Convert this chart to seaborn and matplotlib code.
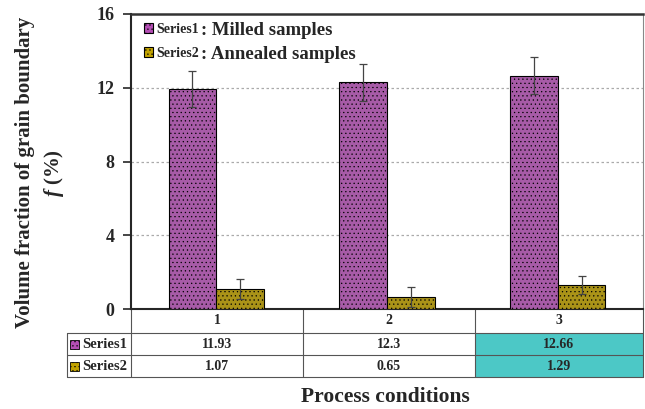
import matplotlib
matplotlib.use("Agg")
import matplotlib.pyplot as plt
import seaborn as sns
import pandas as pd
from matplotlib.patches import Rectangle, Patch

conditions = ["1", "2", "3"]
series_names = ["Series1", "Series2"]
legend_names = ["Milled samples", "Annealed samples"]
milled = [11.93, 12.3, 12.66]
annealed = [1.07, 0.65, 1.29]
milled_err = [1.0, 1.0, 1.0]
annealed_err = [0.55, 0.55, 0.5]
yticks = [0, 4, 8, 12, 16]

colors = ["#B44EB4", "#C2A300"]
teal = "#4CC8C6"

sns.set_theme(style="white")
plt.rcParams["font.family"] = ["Liberation Serif", "DejaVu Serif"]
plt.rcParams["hatch.linewidth"] = 0.4
plt.rcParams["mathtext.fontset"] = "custom"
plt.rcParams["mathtext.rm"] = "Liberation Serif:bold"
plt.rcParams["mathtext.bf"] = "Liberation Serif:bold"
plt.rcParams["mathtext.it"] = "Liberation Serif:italic:bold"

df = pd.DataFrame({
    "cond": conditions * 2,
    "series": [series_names[0]] * 3 + [series_names[1]] * 3,
    "val": milled + annealed,
})

fig = plt.figure(figsize=(6.45, 4.09), dpi=100)
ax = fig.add_axes([131 / 645, 1 - 309 / 409, 512 / 645, 295 / 409])

sns.barplot(data=df, x="cond", y="val", hue="series", palette=colors,
            width=0.56, ax=ax, edgecolor="black", linewidth=0.8,
            errorbar=None, legend=False)

errs = {series_names[0]: milled_err, series_names[1]: annealed_err}
vals = {series_names[0]: milled, series_names[1]: annealed}
for cont, name in zip(ax.containers, series_names):
    xs = [p.get_x() + p.get_width() / 2 for p in cont.patches]
    ax.errorbar(xs, vals[name], yerr=errs[name], fmt="none", ecolor="#444444",
                elinewidth=0.9, capsize=3, capthick=0.9, zorder=5)
    for p in cont.patches:
        p.set_hatch("....")
        p.set_zorder(3)

ax.set_ylim(0, 16)
ax.set_xlim(-0.5, 2.5)
ax.set_yticks(yticks)
ax.set_yticklabels([str(t) for t in yticks], fontsize=13, fontweight="bold")
ax.set_xticks([])
ax.set_xlabel("")
ax.set_ylabel("")
ax.tick_params(axis="y", direction="out", length=6, width=1.2, left=True, pad=6)
for t in yticks[1:-1]:
    ax.axhline(t, color="#AAAAAA", linestyle=(0, (2, 2)), linewidth=0.9, zorder=0)

ax.spines["left"].set_linewidth(1.5)
ax.spines["top"].set_linewidth(1.8)
ax.spines["top"].set_color("#333333")
ax.spines["right"].set_linewidth(0.8)
ax.spines["right"].set_color("#888888")
ax.spines["bottom"].set_linewidth(1.5)

# legend: small "SeriesN" then larger ": description"
handles = [Patch(facecolor=c, edgecolor="black", hatch="....", linewidth=0.8) for c in colors]
leg = ax.legend(handles, series_names, loc="upper left", bbox_to_anchor=(0.0, 1.012),
                frameon=False, handlelength=0.7, handleheight=0.7, handletextpad=0.25,
                labelspacing=0.8, prop={"weight": "bold", "size": 10})
fig.canvas.draw()
inv = fig.transFigure.inverted()
for txt, desc in zip(leg.get_texts(), legend_names):
    bb = txt.get_window_extent(renderer=fig.canvas.get_renderer())
    x0, y0 = inv.transform((bb.x1 + 2, (bb.y0 + bb.y1) / 2 - 1))
    fig.text(x0, y0, ": " + desc, ha="left", va="center", fontsize=13.5,
             fontweight="bold")

# table below axes
px = 1 / 512.0
py = 1 / 295.0
col_edges = [-64 * px, 0, 172 * px, 344 * px, 1.0]
row_edges = [0, -24 * py, -46 * py, -68 * py]
kw = dict(transform=ax.transAxes, clip_on=False)
lc = "#555555"
for k in (1, 2, 3):
    ax.plot([col_edges[0], 1], [row_edges[k]] * 2, color=lc, lw=0.8, **kw)
ax.plot([col_edges[0]] * 2, [row_edges[1], row_edges[3]], color=lc, lw=0.8, **kw)
for xe in col_edges[1:]:
    ax.plot([xe] * 2, [row_edges[0], row_edges[3]], color=lc, lw=0.8, **kw)

ax.add_patch(Rectangle((col_edges[3], row_edges[3]), col_edges[4] - col_edges[3],
                       row_edges[1] - row_edges[3], facecolor=teal, edgecolor="none",
                       zorder=0, **kw))

for i, c in enumerate(conditions):
    xc = (col_edges[i + 1] + col_edges[i + 2]) / 2
    ax.text(xc, (row_edges[0] + row_edges[1]) / 2, c, ha="center", va="center",
            fontsize=10, fontweight="bold", **kw)
    ax.text(xc, (row_edges[1] + row_edges[2]) / 2, f"{milled[i]:g}", ha="center",
            va="center", fontsize=10, fontweight="bold", **kw)
    ax.text(xc, (row_edges[2] + row_edges[3]) / 2, f"{annealed[i]:g}", ha="center",
            va="center", fontsize=10, fontweight="bold", **kw)

for r, (name, c) in enumerate(zip(series_names, colors)):
    yc = (row_edges[r + 1] + row_edges[r + 2]) / 2
    ax.add_patch(Rectangle((col_edges[0] + 3 * px, yc - 4.5 * py), 9 * px, 9 * py,
                           facecolor=c, edgecolor="black", linewidth=0.6,
                           hatch="....", **kw))
    ax.text(col_edges[0] + 15 * px, yc, name, ha="left", va="center",
            fontsize=10.5, fontweight="bold", **kw)

# axis labels
fig.text(385 / 645, 1 - 397 / 409, "Process conditions", ha="center", va="center",
         fontsize=15.5, fontweight="bold")
fig.text(25 / 645, 1 - 172 / 409, "Volume fraction of grain boundary", ha="center",
         va="center", rotation=90, fontsize=15, fontweight="bold")
fig.text(54 / 645, 1 - 173 / 409, r"$\mathit{f}$ (%)", ha="center",
         va="center", rotation=90, fontsize=15, fontweight="bold")

fig.savefig("out.png", dpi=100)
